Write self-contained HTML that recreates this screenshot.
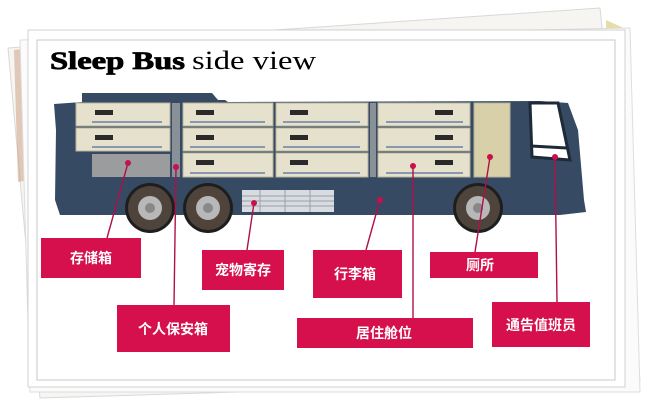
<!DOCTYPE html>
<html><head><meta charset="utf-8"><style>
html,body{margin:0;padding:0;background:#fff;}
svg{display:block;}
.z{font-family:"Liberation Sans","Noto Sans CJK SC",sans-serif;}
</style></head><body>
<svg width="650" height="402" viewBox="0 0 650 402" xmlns="http://www.w3.org/2000/svg">
<rect width="650" height="402" fill="#fff"/>
<polygon points="8,48 600,8 640,380 40,398" fill="#f7f5f2" stroke="#d8d8d8"/>
<polygon points="606,20 628,30 628,360 612,368" fill="#d6c46a" opacity="0.6"/>
<polygon points="14,50 28,48 30,180 18,182" fill="#c99a7a" opacity="0.5"/>
<polygon points="20,40 630,28 640,392 30,392" fill="#fbfbfb" stroke="#ddd"/>
<rect x="28" y="30" width="597" height="357" fill="#fff" stroke="#d0d0d0"/>
<rect x="37" y="40" width="578" height="340" fill="#fff" stroke="#c8c8c8"/>
<text x="50" y="69" textLength="135" lengthAdjust="spacingAndGlyphs" style="font-family:'Liberation Serif',serif;font-size:25px;font-weight:bold;stroke:#000;stroke-width:0.8">Sleep Bus</text>
<text x="192" y="69" textLength="124" lengthAdjust="spacingAndGlyphs" style="font-family:'Liberation Serif',serif;font-size:26px;">side view</text>
<path d="M82,93 L212,93 L218,100 L225,100 L228,102 L540,101 L568,103 L578,130 L584,200 L586,212 L560,215 L60,215 L55,200 L56,130 L54,104 L82,102 Z" fill="#364a63"/>
<g fill="#e6e1cc" stroke="#b8b29a" stroke-width="1">
<rect x="76" y="103" width="94" height="23"/><rect x="76" y="128" width="94" height="23"/>
<rect x="183" y="103" width="90" height="23"/><rect x="183" y="128" width="90" height="23"/><rect x="183" y="153" width="90" height="24"/>
<rect x="276" y="103" width="92" height="23"/><rect x="276" y="128" width="92" height="23"/><rect x="276" y="153" width="92" height="24"/>
<rect x="378" y="103" width="92" height="23"/><rect x="378" y="128" width="92" height="23"/><rect x="378" y="153" width="92" height="24"/>
<rect x="474" y="103" width="36" height="74" fill="#d8d0a8"/>
</g>
<rect x="92" y="154" width="78" height="23" fill="#9a9c9e"/>
<rect x="172" y="103" width="8" height="74" fill="#8a9098"/>
<rect x="370" y="103" width="6" height="74" fill="#8a9098"/>
<g fill="#2a2a2a">
<rect x="95" y="110" width="18" height="5"/><rect x="95" y="135" width="18" height="5"/>
<rect x="196" y="110" width="18" height="5"/><rect x="196" y="135" width="18" height="5"/><rect x="196" y="160" width="18" height="5"/>
<rect x="290" y="110" width="18" height="5"/><rect x="290" y="135" width="18" height="5"/><rect x="290" y="160" width="18" height="5"/>
<rect x="435" y="110" width="18" height="5"/><rect x="435" y="135" width="18" height="5"/><rect x="435" y="160" width="18" height="5"/>
</g>
<g fill="#8898b0">
<rect x="92" y="121" width="70" height="2"/><rect x="92" y="146" width="70" height="2"/>
<rect x="190" y="121" width="75" height="2"/><rect x="190" y="146" width="75" height="2"/><rect x="190" y="172" width="75" height="2"/>
<rect x="283" y="121" width="77" height="2"/><rect x="283" y="146" width="77" height="2"/><rect x="283" y="172" width="77" height="2"/>
<rect x="386" y="121" width="77" height="2"/><rect x="386" y="146" width="77" height="2"/><rect x="386" y="172" width="77" height="2"/>
</g>
<path d="M530,103 L558,103 L570,160 L532,157 Z" fill="#fff" stroke="#1e2a38" stroke-width="3"/>
<line x1="531" y1="146" x2="567" y2="148" stroke="#1e2a38" stroke-width="3"/>
<rect x="242" y="190" width="92" height="22" fill="#d8dce0"/>
<g stroke="#9aa0a8" stroke-width="1">
<line x1="242" y1="196" x2="334" y2="196"/><line x1="242" y1="201" x2="334" y2="201"/><line x1="242" y1="206" x2="334" y2="206"/>
<line x1="260" y1="190" x2="260" y2="212"/><line x1="285" y1="190" x2="285" y2="212"/><line x1="310" y1="190" x2="310" y2="212"/>
</g>
<g>
<circle cx="150" cy="208" r="25" fill="#1e1e1e"/><circle cx="150" cy="208" r="22" fill="#4e443c"/><circle cx="150" cy="208" r="12" fill="#b8b8b8"/><circle cx="150" cy="208" r="5" fill="#888"/>
<circle cx="208" cy="208" r="25" fill="#1e1e1e"/><circle cx="208" cy="208" r="22" fill="#4e443c"/><circle cx="208" cy="208" r="12" fill="#b8b8b8"/><circle cx="208" cy="208" r="5" fill="#888"/>
<circle cx="478" cy="208" r="25" fill="#1e1e1e"/><circle cx="478" cy="208" r="22" fill="#4e443c"/><circle cx="478" cy="208" r="12" fill="#b8b8b8"/><circle cx="478" cy="208" r="5" fill="#888"/>
</g>
<g stroke="#b0104a" stroke-width="1.4" fill="none">
<line x1="128" y1="163" x2="107" y2="238"/>
<line x1="176" y1="167" x2="174" y2="305"/>
<line x1="254" y1="203" x2="247" y2="250"/>
<line x1="380" y1="200" x2="366" y2="250"/>
<line x1="413" y1="166" x2="413" y2="318"/>
<line x1="490" y1="157" x2="475" y2="252"/>
<line x1="555" y1="157" x2="557" y2="302"/>
</g>
<g fill="#c8104a">
<circle cx="128" cy="163" r="3"/><circle cx="176" cy="167" r="3"/><circle cx="254" cy="203" r="3"/>
<circle cx="380" cy="200" r="3"/><circle cx="413" cy="166" r="3"/><circle cx="490" cy="157" r="3"/><circle cx="555" cy="157" r="3"/>
</g>
<g fill="#d5104c">
<rect x="41" y="238" width="100" height="40"/>
<rect x="117" y="305" width="113" height="47"/>
<rect x="202" y="250" width="82" height="40"/>
<rect x="313" y="250" width="89" height="48"/>
<rect x="430" y="252" width="108" height="26"/>
<rect x="297" y="318" width="176" height="30"/>
<rect x="492" y="302" width="98" height="45"/>
</g>
<g class="z" fill="#fff" font-size="14" font-weight="bold" text-anchor="middle">
<text x="91" y="263">存储箱</text>
<text x="173" y="334">个人保安箱</text>
<text x="243" y="275">宠物寄存</text>
<text x="355" y="279">行李箱</text>
<text x="480" y="270">厕所</text>
<text x="384" y="338">居住舱位</text>
<text x="541" y="330">通告值班员</text>
</g>
</svg>
</body></html>
